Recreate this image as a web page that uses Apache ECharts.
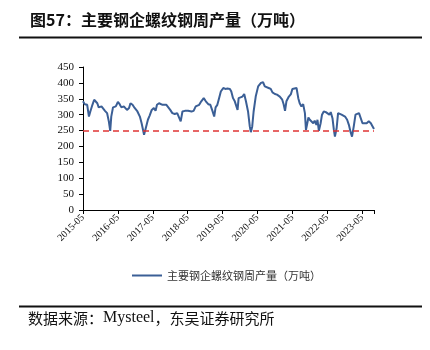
<!DOCTYPE html>
<html>
<head>
<meta charset="utf-8">
<script src="https://cdn.jsdelivr.net/npm/echarts@6/dist/echarts.min.js"></script>
<style>html,body{margin:0;padding:0;background:#fff;}#c{width:430px;height:350px;}</style>
</head>
<body>
<div id="c"></div>
<script>
// x: years since 2015-05, y: weekly output (万吨)
var xYears = [0.00,0.05,0.12,0.17,0.21,0.27,0.32,0.36,0.41,0.45,0.53,0.57,0.63,0.69,0.74,0.78,0.81,0.86,0.94,1.00,1.05,1.10,1.17,1.22,1.26,1.32,1.36,1.42,1.48,1.56,1.63,1.68,1.75,1.80,1.86,1.91,1.97,2.03,2.08,2.12,2.18,2.23,2.28,2.32,2.39,2.44,2.50,2.56,2.63,2.70,2.75,2.80,2.85,2.92,2.96,3.01,3.06,3.11,3.17,3.23,3.28,3.33,3.39,3.46,3.52,3.59,3.65,3.71,3.76,3.80,3.85,3.90,3.95,4.02,4.08,4.14,4.21,4.25,4.30,4.35,4.40,4.43,4.46,4.51,4.57,4.62,4.67,4.73,4.78,4.81,4.85,4.89,4.95,5.02,5.10,5.16,5.21,5.26,5.32,5.38,5.43,5.50,5.56,5.64,5.71,5.75,5.79,5.83,5.90,5.96,6.00,6.05,6.12,6.17,6.21,6.26,6.31,6.36,6.39,6.42,6.46,6.50,6.55,6.60,6.64,6.69,6.72,6.76,6.81,6.85,6.90,6.96,7.01,7.06,7.10,7.15,7.19,7.22,7.27,7.31,7.36,7.41,7.46,7.51,7.57,7.62,7.67,7.71,7.76,7.81,7.86,7.91,7.96,8.01,8.06,8.13,8.19,8.25,8.30,8.34];
var values = [342,333,331,294,310,331,347,347,336,323,326,321,312,305,279,249,294,323,326,340,333,323,326,321,315,321,336,331,321,310,294,273,237,258,284,297,315,321,312,331,336,333,331,326,331,326,315,305,302,305,300,279,310,312,308,312,308,310,312,326,323,331,342,352,342,333,331,312,294,323,331,352,373,384,381,382,381,373,352,342,336,315,352,354,357,365,342,310,263,245,263,310,357,389,400,402,389,389,384,381,370,365,363,357,347,333,312,342,357,365,381,376,384,352,336,326,333,305,252,268,291,284,279,273,281,268,284,249,273,300,310,308,312,300,308,289,252,231,258,305,310,300,305,294,284,268,245,231,263,300,305,305,300,273,268,273,279,273,263,255];
var tickYears = [2015,2016,2017,2018,2019,2020,2021,2022,2023];
var tickMonth = '05';
var yTicks = [0,50,100,150,200,250,300,350,400,450];
var refLevel = 250;
var seriesName = '主要钢企螺纹钢周产量（万吨）';
var titleText = '图57：主要钢企螺纹钢周产量（万吨）';
var sourceParts = ['数据来源：', 'Mysteel', '，东吴证券研究所'];

var data = xYears.map(function (x, i) { return [x, values[i]]; });
var chart = echarts.init(document.getElementById('c'), null, {renderer: 'canvas'});
var serif = '"Liberation Serif","Times New Roman",serif';
var cjk = '"Noto Sans CJK SC","Liberation Serif",sans-serif';
chart.setOption({
  animation: false,
  backgroundColor: '#fff',
  grid: {left: 83, right: 56, top: 67, bottom: 140, containLabel: false},
  xAxis: {
    type: 'value', min: 0, max: xYears[xYears.length - 1], interval: 1,
    axisLine: {lineStyle: {color: '#000', width: 1}},
    axisTick: {show: true, length: 4, lineStyle: {color: '#000'}},
    splitLine: {show: false},
    axisLabel: {
      rotate: 45, color: '#111', fontFamily: serif, fontSize: 10, margin: 6,
      formatter: function (v) {
        var k = Math.round(v);
        if (Math.abs(v - k) > 1e-6 || k < 0 || k >= tickYears.length) return '';
        return tickYears[k] + '-' + tickMonth;
      }
    }
  },
  yAxis: {
    type: 'value', min: yTicks[0], max: yTicks[yTicks.length - 1], interval: 50,
    axisLine: {show: true, lineStyle: {color: '#000', width: 1}},
    axisTick: {show: true, length: 4, lineStyle: {color: '#000'}},
    splitLine: {show: false},
    axisLabel: {color: '#111', fontFamily: serif, fontSize: 11, margin: 9}
  },
  legend: {
    left: 127, top: 265, icon: 'rect', itemWidth: 30, itemHeight: 2, itemGap: 10,
    textStyle: {fontFamily: cjk, fontSize: 11, color: '#333'},
    data: [seriesName]
  },
  series: [{
    name: seriesName, type: 'line', data: data, showSymbol: false, symbol: 'none',
    lineStyle: {color: '#3B5F96', width: 2},
    itemStyle: {color: '#3B5F96'},
    markLine: {
      silent: true, symbol: 'none', label: {show: false},
      lineStyle: {color: '#E03535', type: [6, 4], width: 1.5},
      data: [{yAxis: refLevel}]
    }
  }],
  graphic: [
    {type: 'text', left: 30, top: 12, style: {text: titleText, font: 'bold 16px ' + cjk, fill: '#111'}},
    {type: 'line', shape: {x1: 19, y1: 37.5, x2: 422, y2: 37.5}, style: {stroke: '#111', lineWidth: 2}},
    {type: 'line', shape: {x1: 19, y1: 306.5, x2: 422, y2: 306.5}, style: {stroke: '#111', lineWidth: 2}},
    {type: 'text', left: 28, top: 310, style: {
      text: '{a|' + sourceParts[0] + '}{b|' + sourceParts[1] + '}{a|' + sourceParts[2] + '}',
      rich: {
        a: {fontFamily: cjk, fontSize: 15, fill: '#111', color: '#111'},
        b: {fontFamily: serif, fontSize: 16, fill: '#111', color: '#111'}
      }
    }}
  ]
});
</script>
</body>
</html>
